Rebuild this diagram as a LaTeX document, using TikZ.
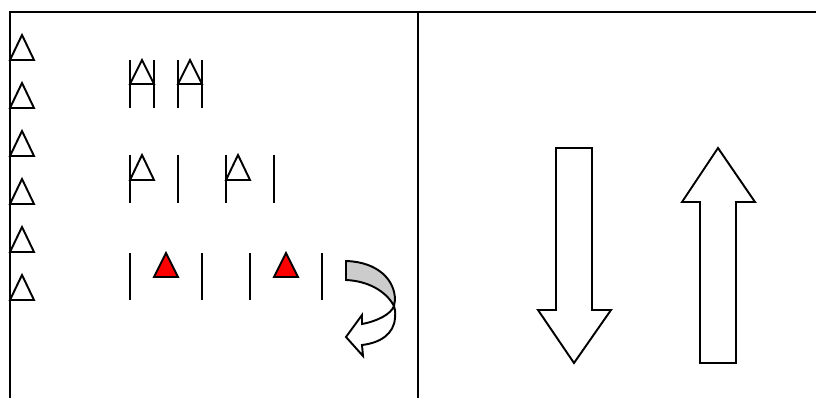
\documentclass[tikz,border=0pt]{standalone}
\usepackage{xcolor}
\usepackage{tikz}

\begin{document}
\begin{tikzpicture}[x=0.02cm,y=-0.02cm,line width=1.1pt]
\useasboundingbox (0,0) rectangle (816,398);
\draw (10,398) -- (10,12) -- (816,12);
\draw (418,12) -- (418,398);
\foreach \y in {35,83,131,179,227,275}
  \draw (10,\y+25) -- (22,\y) -- (34,\y+25) -- cycle;
\foreach \x in {130,178} {
  \draw (\x,60) -- (\x,108);
  \draw (\x+24,60) -- (\x+24,108);
  \draw (\x,84) -- (\x+12,60) -- (\x+24,84) -- cycle;
}
\foreach \x in {130,226} {
  \draw (\x,155) -- (\x,203);
  \draw (\x+48,155) -- (\x+48,203);
  \draw (\x,180) -- (\x+12,155) -- (\x+24,180) -- cycle;
}
\foreach \x in {130,250} {
  \draw (\x,253) -- (\x,300);
  \draw (\x+72,253) -- (\x+72,300);
  \draw[fill=red] (\x+24,277) -- (\x+36,253) -- (\x+48,277) -- cycle;
}
\draw[fill=black!20] (346,261) .. controls (378,262) and (395,280) .. (395,300)
  -- (394,306) .. controls (386,291) and (368,281) .. (346,280) -- cycle;
\draw[fill=white] (394,306) .. controls (396,312) and (395,316) .. (395,318)
  .. controls (394,334) and (380,343) .. (362,345)
  -- (363,356) -- (346,337) -- (362,315) -- (362,324)
  .. controls (378,321) and (391,314) .. (394,306);
\draw (556,148) -- (592,148) -- (592,310) -- (611,310) -- (574,363) -- (538,310) -- (556,310) -- cycle;
\draw (700,363) -- (736,363) -- (736,202) -- (755,202) -- (718,148) -- (682,202) -- (700,202) -- cycle;
\end{tikzpicture}
\end{document}
